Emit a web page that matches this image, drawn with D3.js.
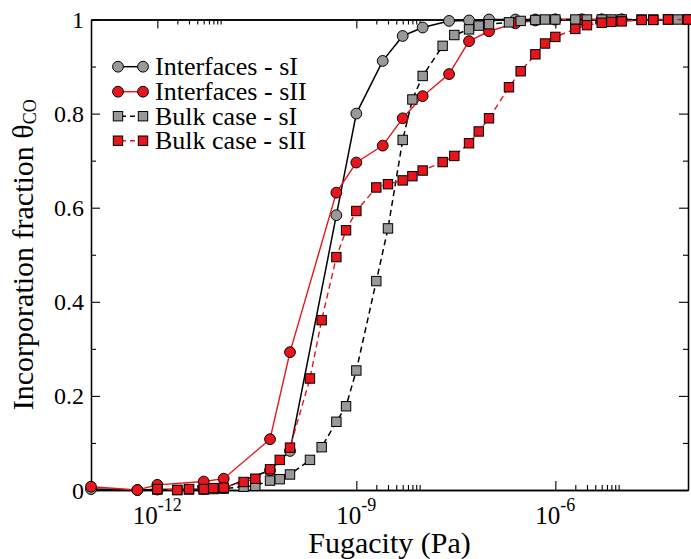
<!DOCTYPE html>
<html>
<head>
<meta charset="utf-8">
<script src="https://cdn.jsdelivr.net/npm/d3@7"></script>
<style>
  html, body { margin: 0; padding: 0; background: #fff; }
  svg { display: block; }
</style>
</head>
<body>
<svg id="chart" width="691" height="559"></svg>
<script>
// Fugacities (Pa) sampled for the interface simulations
const fugInterface = [1e-13, 5e-13, 1e-12, 5e-12, 1e-11, 5e-11, 1e-10, 5e-10, 1e-9, 2.5e-9,
  5e-9, 1e-8, 2.5e-8, 5e-8, 1e-7, 2.5e-7, 5e-7, 1e-6, 2.5e-6, 5e-6, 1e-5];
const interfaceSI = [0.002, 0.0, 0.001, 0.002, 0.004, 0.042, 0.083, 0.584, 0.800, 0.912,
  0.965, 0.983, 0.997, 0.998, 1.0, 1.0, 1.0, 1.0, 1.0, 1.0, 1.0];
const interfaceSII = [0.007, 0.0, 0.011, 0.018, 0.024, 0.108, 0.293, 0.632, 0.696, 0.732,
  0.790, 0.837, 0.884, 0.954, 0.975, 0.992, 0.998, 1.0, 1.0, 1.0, 1.0];

// Fugacities (Pa) sampled for the bulk simulations
const fugBulkSI = [1e-12, 2e-12, 3e-12, 5e-12, 7e-12, 1e-11, 2e-11, 3e-11, 5e-11, 7e-11,
  1e-10, 2e-10, 3e-10, 5e-10, 7e-10, 1e-9, 2e-9, 3e-9, 5e-9, 7e-9,
  1e-8, 2e-8, 3e-8, 5e-8, 7e-8, 1e-7, 2e-7, 3e-7, 5e-7, 7e-7,
  1e-6, 2e-6, 3e-6, 5e-6, 7e-6, 1e-5, 2e-5, 3e-5, 5e-5, 7e-5, 1e-4];
const bulkSI = [0.001, 0.0, 0.001, 0.001, 0.002, 0.003, 0.007, 0.009, 0.020, 0.023,
  0.033, 0.064, 0.091, 0.145, 0.178, 0.254, 0.444, 0.556, 0.744, 0.830,
  0.880, 0.944, 0.967, 0.979, 0.987, 0.990, 0.994, 0.997, 0.999, 1.0,
  1.0, 1.0, 1.0, 1.0, 1.0, 1.0, 1.0, 1.0, 1.0, 1.0, 1.0];
const fugBulkSII = [1e-12, 2e-12, 3e-12, 5e-12, 7e-12, 1e-11, 2e-11, 3e-11, 5e-11, 7e-11,
  1e-10, 2e-10, 3e-10, 5e-10, 7e-10, 1e-9, 2e-9, 3e-9, 5e-9, 7e-9,
  1e-8, 2e-8, 3e-8, 5e-8, 7e-8, 1e-7, 2e-7, 3e-7, 5e-7, 7e-7,
  1e-6, 2e-6, 3e-6, 5e-6, 7e-6, 1e-5, 2e-5, 3e-5, 5e-5, 1e-4];
const bulkSII = [0.002, 0.0, 0.002, 0.002, 0.004, 0.005, 0.017, 0.024, 0.044, 0.064,
  0.090, 0.237, 0.361, 0.495, 0.552, 0.593, 0.643, 0.650, 0.658, 0.667,
  0.679, 0.697, 0.710, 0.737, 0.762, 0.790, 0.856, 0.890, 0.926, 0.949,
  0.963, 0.980, 0.988, 0.993, 0.995, 0.996, 0.999, 0.999, 1.0, 1.0];

const seriesNames = ["Interfaces - sI", "Interfaces - sII", "Bulk case - sI", "Bulk case - sII"];

// Axis ticks
const xMajorTicks = [1e-12, 1e-9, 1e-6];
const xTickExponents = ["-12", "-9", "-6"];
const xMinorTicks = [2e-12, 3e-12, 4e-12, 5e-12, 6e-12, 7e-12, 8e-12, 9e-12,
  2e-9, 3e-9, 4e-9, 5e-9, 6e-9, 7e-9, 8e-9, 9e-9,
  2e-6, 3e-6, 4e-6, 5e-6, 6e-6, 7e-6, 8e-6, 9e-6];
const yMajorTicks = [0, 0.2, 0.4, 0.6, 0.8, 1];
const yTickLabels = ["0", "0.2", "0.4", "0.6", "0.8", "1"];
const yMinorTicks = [0.1, 0.3, 0.5, 0.7, 0.9];

const RED = "#e8161c";
const GREY = "#999999";
const FONT = "'Liberation Serif', 'Times New Roman', Times, serif";

const svg = d3.select("#chart").attr("font-family", FONT);
const plotLeft = 91, plotRight = 688, plotTop = 19.5, plotBottom = 490;

const x = d3.scaleLog().domain([1e-13, 1e-4]).range([plotLeft, plotRight]);
const y = d3.scaleLinear().domain([0, 1]).range([plotBottom, plotTop]);

// Frame and inward ticks on all four sides
function addAxis(axisFn, transform, ticks, size) {
  const g = svg.append("g").attr("transform", transform)
    .call(axisFn.tickValues(ticks).tickSizeInner(-size).tickSizeOuter(0).tickFormat(() => ""));
  g.selectAll("text").remove();
  g.select(".domain").attr("stroke", "#000").attr("stroke-width", 1.3);
  g.selectAll(".tick line").attr("stroke", "#000").attr("stroke-width", 1.1);
  return g;
}
addAxis(d3.axisBottom(x), `translate(0,${plotBottom})`, xMinorTicks, 5);
addAxis(d3.axisTop(x), `translate(0,${plotTop})`, xMinorTicks, 5);
addAxis(d3.axisLeft(y), `translate(${plotLeft},0)`, yMinorTicks, 5);
addAxis(d3.axisRight(y), `translate(${plotRight},0)`, yMinorTicks, 5);
addAxis(d3.axisBottom(x), `translate(0,${plotBottom})`, xMajorTicks, 9);
addAxis(d3.axisTop(x), `translate(0,${plotTop})`, xMajorTicks, 9);
addAxis(d3.axisLeft(y), `translate(${plotLeft},0)`, yMajorTicks, 9);
addAxis(d3.axisRight(y), `translate(${plotRight},0)`, yMajorTicks, 9);

// Tick labels
yMajorTicks.forEach((v, i) => {
  svg.append("text")
    .attr("font-family", FONT)
    .attr("x", plotLeft - 7).attr("y", y(v) + 8.5)
    .attr("text-anchor", "end").attr("font-size", 24)
    .text(yTickLabels[i]);
});
xMajorTicks.forEach((v, i) => {
  const t = svg.append("text")
    .attr("font-family", FONT)
    .attr("x", x(v)).attr("y", 524)
    .attr("text-anchor", "middle").attr("font-size", 25);
  t.append("tspan").text("10");
  t.append("tspan").attr("font-size", 18).attr("dy", -13).text(xTickExponents[i]);
});

// Axis titles
svg.append("text")
  .attr("font-family", FONT)
  .attr("x", (plotLeft + plotRight) / 2).attr("y", 553)
  .attr("text-anchor", "middle").attr("font-size", 30)
  .text("Fugacity (Pa)");
const yTitle = svg.append("text")
  .attr("font-family", FONT)
  .attr("transform", `translate(33,${(plotTop + plotBottom) / 2}) rotate(-90)`)
  .attr("text-anchor", "middle").attr("font-size", 30);
yTitle.append("tspan").text("Incorporation fraction θ");
yTitle.append("tspan").attr("font-size", 18).attr("dy", 3).text("CO");

// Series drawing
const series = [
  { fug: fugInterface, val: interfaceSI, color: "#000", fill: GREY, shape: "circle", dash: null, width: 1.5 },
  { fug: fugInterface, val: interfaceSII, color: RED, fill: RED, shape: "circle", dash: null, width: 1.4 },
  { fug: fugBulkSI, val: bulkSI, color: "#000", fill: GREY, shape: "square", dash: "6,4", width: 1.5 },
  { fug: fugBulkSII, val: bulkSII, color: RED, fill: RED, shape: "square", dash: "6,4", width: 1.4 }
];

const line = d3.line().x(d => x(d[0])).y(d => y(d[1]));
const R = 5.4, S = 9.4;

function drawMarker(g, shape, fill, cx, cy) {
  if (shape === "circle") {
    g.append("circle").attr("cx", cx).attr("cy", cy).attr("r", R)
      .attr("fill", fill).attr("stroke", "#000").attr("stroke-width", 1);
  } else {
    g.append("rect").attr("x", cx - S / 2).attr("y", cy - S / 2)
      .attr("width", S).attr("height", S)
      .attr("fill", fill).attr("stroke", "#000").attr("stroke-width", 1);
  }
}

series.forEach(s => {
  const pts = s.fug.map((f, i) => [f, s.val[i]]);
  const g = svg.append("g");
  g.append("path").datum(pts).attr("d", line)
    .attr("fill", "none").attr("stroke", s.color).attr("stroke-width", s.width)
    .attr("stroke-dasharray", s.dash);
  pts.forEach(p => drawMarker(g, s.shape, s.fill, x(p[0]), y(p[1])));
});

// Legend
const legendRows = [75, 100, 124.5, 149];
series.forEach((s, i) => {
  const g = svg.append("g");
  const cy = legendRows[i] - 8.3;
  g.append("line").attr("x1", 118).attr("x2", 143).attr("y1", cy).attr("y2", cy)
    .attr("stroke", s.color).attr("stroke-width", s.width)
    .attr("stroke-dasharray", s.dash ? "5,4" : null)
    .attr("stroke-dashoffset", s.dash ? -3 : null);
  drawMarker(g, s.shape, s.fill, 118, cy);
  drawMarker(g, s.shape, s.fill, 143, cy);
  g.append("text").attr("font-family", FONT).attr("x", 155).attr("y", legendRows[i])
    .attr("font-size", 26).text(seriesNames[i]);
});
</script>
</body>
</html>
